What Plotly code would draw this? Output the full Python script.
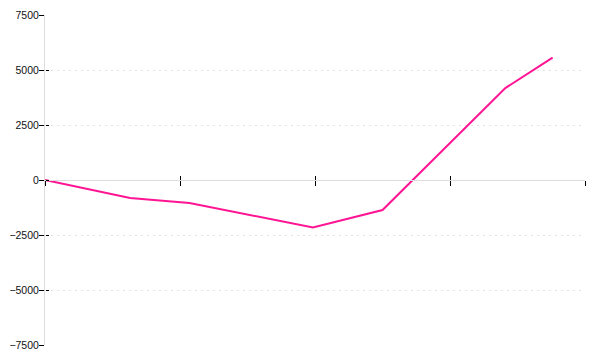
import plotly.graph_objects as go

x_vals = [0.0, 0.63, 1.07, 1.985, 2.50, 3.41, 3.76]
y_vals = [0, -820, -1045, -2160, -1365, 4180, 5560]
y_ticks = [-7500, -5000, -2500, 0, 2500, 5000, 7500]
x_ticks = [0, 1, 2, 3, 4]

fig = go.Figure()
fig.add_trace(go.Scatter(x=x_vals, y=y_vals, mode="lines",
                         line=dict(color="#FF1493", width=2), hoverinfo="skip"))
fig.add_trace(go.Scatter(x=x_vals, y=y_vals, mode="lines", xaxis="x2", yaxis="y2",
                         line=dict(color="rgba(0,0,0,0)", width=0), hoverinfo="skip"))

fig.update_layout(
    width=600, height=360,
    margin=dict(l=45, r=15, t=15, b=15, autoexpand=False),
    paper_bgcolor="white", plot_bgcolor="white",
    showlegend=False,
    xaxis=dict(range=[0, 4], tickvals=x_ticks, showticklabels=False,
               ticks="outside", ticklen=5, tickcolor="black", tickwidth=1,
               showline=True, linecolor="#dddddd", linewidth=1,
               showgrid=False, zeroline=False, anchor="free", position=0.5,
               automargin=False),
    xaxis2=dict(range=[0, 4], tickvals=x_ticks, showticklabels=False,
                ticks="inside", ticklen=4, tickcolor="black", tickwidth=1,
                showline=False, showgrid=False, zeroline=False,
                overlaying="x", anchor="free", position=0.5, automargin=False),
    yaxis=dict(range=[-7500, 7500], tickvals=y_ticks,
               ticks="outside", ticklen=5, tickcolor="black", tickwidth=1,
               showline=True, linecolor="#dddddd", linewidth=1,
               showgrid=True, gridcolor="#e2e2e2", griddash="2px,4px", gridwidth=1,
               zeroline=False, automargin=False, ticklabelstandoff=-2,
               tickfont=dict(family="Liberation Sans", size=10.5, color="#111111")),
    yaxis2=dict(range=[-7500, 7500], tickvals=y_ticks, showticklabels=False,
                ticks="inside", ticklen=3, tickcolor="black", tickwidth=1,
                showline=False, showgrid=False, zeroline=False,
                overlaying="y", anchor="free", position=0, side="left",
                automargin=False),
)

fig.write_html("out.html")
